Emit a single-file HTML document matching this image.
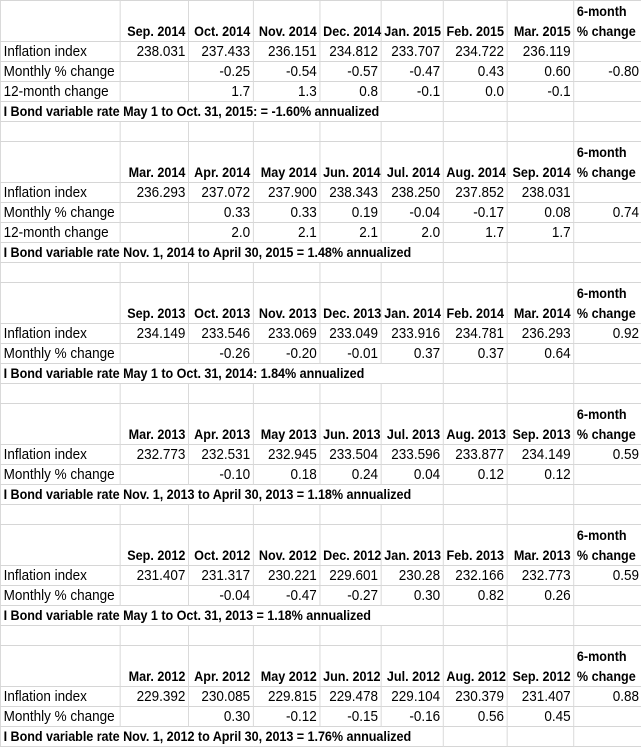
<!DOCTYPE html>
<html><head><meta charset="utf-8"><style>
html,body{margin:0;padding:0;background:#fff;width:641px;height:744px;overflow:hidden}
#w{position:absolute;left:0;top:0px;width:713px;transform:scaleX(0.9);transform-origin:0 0}
table{border-collapse:collapse;table-layout:fixed;width:713px;font-family:"Liberation Sans",sans-serif;font-size:15px;color:#000}
td{border:1px solid #d6d6d6;height:19px;line-height:19px;padding:0 3px 0 3px;text-align:right;white-space:nowrap;overflow:visible}
td.l{text-align:left}
tr.h td{height:39px;vertical-align:bottom;font-weight:bold;font-size:14px}
tr.h td.s{text-align:left;line-height:20px}
td.b span{font-weight:bold;font-size:14px;letter-spacing:-0.05px;background:#fff;position:relative;z-index:2;padding-right:2px}
</style></head><body><div id="w"><table>
<colgroup><col style="width:133px"><col style="width:76px"><col style="width:72px"><col style="width:74px"><col style="width:68px"><col style="width:69px"><col style="width:71px"><col style="width:74px"><col style="width:76px"></colgroup>
<tr class="h"><td></td><td>Sep. 2014</td><td>Oct. 2014</td><td>Nov. 2014</td><td>Dec. 2014</td><td>Jan. 2015</td><td>Feb. 2015</td><td>Mar. 2015</td><td class="s">6-month<br>% change</td></tr>
<tr><td class="l">Inflation index</td><td>238.031</td><td>237.433</td><td>236.151</td><td>234.812</td><td>233.707</td><td>234.722</td><td>236.119</td><td></td></tr>
<tr><td class="l">Monthly % change</td><td></td><td>-0.25</td><td>-0.54</td><td>-0.57</td><td>-0.47</td><td>0.43</td><td>0.60</td><td>-0.80</td></tr>
<tr><td class="l">12-month change</td><td></td><td>1.7</td><td>1.3</td><td>0.8</td><td>-0.1</td><td>0.0</td><td>-0.1</td><td></td></tr>
<tr><td class="l b" colspan="6"><span>I Bond variable rate May 1 to Oct. 31, 2015: = -1.60% annualized</span></td><td></td><td></td><td></td></tr>
<tr><td></td><td></td><td></td><td></td><td></td><td></td><td></td><td></td><td></td></tr>

<tr class="h"><td></td><td>Mar. 2014</td><td>Apr. 2014</td><td>May 2014</td><td>Jun. 2014</td><td>Jul. 2014</td><td>Aug. 2014</td><td>Sep. 2014</td><td class="s">6-month<br>% change</td></tr>
<tr><td class="l">Inflation index</td><td>236.293</td><td>237.072</td><td>237.900</td><td>238.343</td><td>238.250</td><td>237.852</td><td>238.031</td><td></td></tr>
<tr><td class="l">Monthly % change</td><td></td><td>0.33</td><td>0.33</td><td>0.19</td><td>-0.04</td><td>-0.17</td><td>0.08</td><td>0.74</td></tr>
<tr><td class="l">12-month change</td><td></td><td>2.0</td><td>2.1</td><td>2.1</td><td>2.0</td><td>1.7</td><td>1.7</td><td></td></tr>
<tr><td class="l b" colspan="6"><span>I Bond variable rate Nov. 1, 2014 to April 30, 2015 = 1.48% annualized</span></td><td></td><td></td><td></td></tr>
<tr><td></td><td></td><td></td><td></td><td></td><td></td><td></td><td></td><td></td></tr>

<tr class="h"><td></td><td>Sep. 2013</td><td>Oct. 2013</td><td>Nov. 2013</td><td>Dec. 2013</td><td>Jan. 2014</td><td>Feb. 2014</td><td>Mar. 2014</td><td class="s">6-month<br>% change</td></tr>
<tr><td class="l">Inflation index</td><td>234.149</td><td>233.546</td><td>233.069</td><td>233.049</td><td>233.916</td><td>234.781</td><td>236.293</td><td>0.92</td></tr>
<tr><td class="l">Monthly % change</td><td></td><td>-0.26</td><td>-0.20</td><td>-0.01</td><td>0.37</td><td>0.37</td><td>0.64</td><td></td></tr>
<tr><td class="l b" colspan="6"><span>I Bond variable rate May 1 to Oct. 31, 2014: 1.84% annualized</span></td><td></td><td></td><td></td></tr>
<tr><td></td><td></td><td></td><td></td><td></td><td></td><td></td><td></td><td></td></tr>

<tr class="h"><td></td><td>Mar. 2013</td><td>Apr. 2013</td><td>May 2013</td><td>Jun. 2013</td><td>Jul. 2013</td><td>Aug. 2013</td><td>Sep. 2013</td><td class="s">6-month<br>% change</td></tr>
<tr><td class="l">Inflation index</td><td>232.773</td><td>232.531</td><td>232.945</td><td>233.504</td><td>233.596</td><td>233.877</td><td>234.149</td><td>0.59</td></tr>
<tr><td class="l">Monthly % change</td><td></td><td>-0.10</td><td>0.18</td><td>0.24</td><td>0.04</td><td>0.12</td><td>0.12</td><td></td></tr>
<tr><td class="l b" colspan="6"><span>I Bond variable rate Nov. 1, 2013 to April 30, 2013 = 1.18% annualized</span></td><td></td><td></td><td></td></tr>
<tr><td></td><td></td><td></td><td></td><td></td><td></td><td></td><td></td><td></td></tr>

<tr class="h"><td></td><td>Sep. 2012</td><td>Oct. 2012</td><td>Nov. 2012</td><td>Dec. 2012</td><td>Jan. 2013</td><td>Feb. 2013</td><td>Mar. 2013</td><td class="s">6-month<br>% change</td></tr>
<tr><td class="l">Inflation index</td><td>231.407</td><td>231.317</td><td>230.221</td><td>229.601</td><td>230.28</td><td>232.166</td><td>232.773</td><td>0.59</td></tr>
<tr><td class="l">Monthly % change</td><td></td><td>-0.04</td><td>-0.47</td><td>-0.27</td><td>0.30</td><td>0.82</td><td>0.26</td><td></td></tr>
<tr><td class="l b" colspan="6"><span>I Bond variable rate May 1 to Oct. 31, 2013 = 1.18% annualized</span></td><td></td><td></td><td></td></tr>
<tr><td></td><td></td><td></td><td></td><td></td><td></td><td></td><td></td><td></td></tr>

<tr class="h"><td></td><td>Mar. 2012</td><td>Apr. 2012</td><td>May 2012</td><td>Jun. 2012</td><td>Jul. 2012</td><td>Aug. 2012</td><td>Sep. 2012</td><td class="s">6-month<br>% change</td></tr>
<tr><td class="l">Inflation index</td><td>229.392</td><td>230.085</td><td>229.815</td><td>229.478</td><td>229.104</td><td>230.379</td><td>231.407</td><td>0.88</td></tr>
<tr><td class="l">Monthly % change</td><td></td><td>0.30</td><td>-0.12</td><td>-0.15</td><td>-0.16</td><td>0.56</td><td>0.45</td><td></td></tr>
<tr><td class="l b" colspan="6"><span>I Bond variable rate Nov. 1, 2012 to April 30, 2013 = 1.76% annualized</span></td><td></td><td></td><td></td></tr>
</table></div></body></html>
